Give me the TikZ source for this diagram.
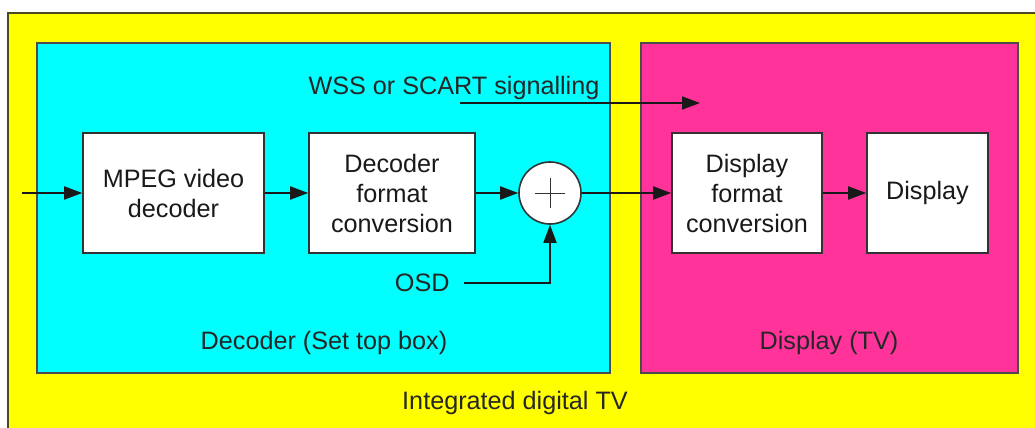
\documentclass[tikz,border=0pt]{standalone}
\usepackage{fontspec}
\setmainfont{Liberation Sans}
\usetikzlibrary{arrows.meta}

\begin{document}
\begin{tikzpicture}[x=0.5pt,y=-0.5pt,
  blk/.style={draw=black!80, line width=0.8pt, fill=white, align=center,
    inner sep=0pt, text=black!90},
  flow/.style={draw=black!90, line width=0.9pt, -{Triangle[length=9pt,width=6.5pt]}},
  lbl/.style={text=black!85, inner sep=1pt}]

% Colori
\definecolor{colTV}{HTML}{FFFF00}
\definecolor{colDec}{HTML}{00FFFF}
\definecolor{colDisp}{HTML}{FF3399}
\definecolor{lineDark}{HTML}{4A4A20}

\useasboundingbox (0,0) rectangle (1035,428);
\fontsize{12.6}{15}\selectfont

% Sfondi
\fill[colTV, draw=lineDark, line width=0.8pt] (8,13) rectangle (1050,440);
\fill[colDec, draw=black!70, line width=0.7pt] (37,43) rectangle (610,373);
\fill[colDisp, draw=black!70, line width=0.7pt] (641,43) rectangle (1018,373);

% Blocchi
\node[blk, minimum width=90.5pt, minimum height=60pt] (mpeg) at (173.5,193) {MPEG video\\decoder};
\node[blk, minimum width=83pt, minimum height=60pt] (decfmt) at (392,193) {Decoder\\format\\conversion};
\node[blk, circle, minimum size=31pt] (sum) at (550,193) {};
\node[blk, minimum width=75pt, minimum height=60pt] (dispfmt) at (747,193) {Display\\format\\conversion};
\node[blk, minimum width=60.5pt, minimum height=60pt] (disp) at (927.5,193) {Display};

% Somma
\draw[line width=0.5pt, black!80] (sum.center) ++(-15,0) -- ++(30,0);
\draw[line width=0.5pt, black!80] (sum.center) ++(0,-15) -- ++(0,30);

% Etichette
\node[lbl] (wss) at (454,88) {WSS or SCART signalling};
\node[lbl, anchor=east] (osd) at (452,283) {OSD};
\node[lbl] (declbl) at (324,343) {Decoder (Set top box)};
\node[lbl] (displbl) at (829,343) {Display (TV)};
\node[lbl] (tvlbl) at (515,403) {Integrated digital TV};

% Collegamenti
\coordinate (in) at (22,193);
\coordinate (wssA) at (460,103);
\coordinate (wssB) at (700,103);
\draw[flow] (in) -- (mpeg.west);
\draw[flow] (mpeg) -- (decfmt);
\draw[flow] (decfmt) -- (sum);
\draw[flow] (sum) -- (dispfmt);
\draw[flow] (dispfmt) -- (disp);
\draw[flow] (wssA) -- (wssB);
\draw[flow, shorten <=6pt] (osd.east) -| (sum.south);
\end{tikzpicture}
\end{document}
